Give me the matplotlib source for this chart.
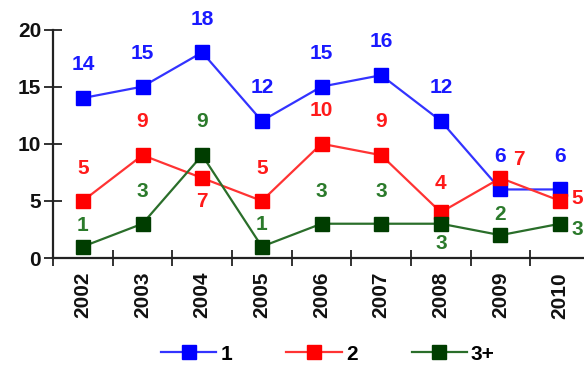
import matplotlib
matplotlib.use("Agg")
import matplotlib.pyplot as plt
from matplotlib.lines import Line2D

years = ["2002", "2003", "2004", "2005", "2006", "2007", "2008", "2009", "2010"]
series_names = ["1", "2", "3+"]
s1 = [14, 15, 18, 12, 15, 16, 12, 6, 6]
s2 = [5, 9, 7, 5, 10, 9, 4, 7, 5]
s3 = [1, 3, 9, 1, 3, 3, 3, 2, 3]

line_colors = ["#3333ff", "#ff3333", "#2a6e2a"]
marker_colors = ["#0000ff", "#ff0000", "#003d00"]
text_colors = ["#1a1aff", "#ff1a1a", "#2b7a2b"]

# label offsets in points (dx, dy) for each point of each series
up = (0, 24)
offsets = [
    [up] * 9,
    [(0, 23), up, (0, -17), (0, 23), up, up, (0, 21), (13, 13), (12, 2)],
    [(0, 15), (0, 23), up, (0, 16), (0, 23), (0, 23), (0, -14), (0, 15), (12, -4)],
]

plt.rcParams["font.family"] = ["Liberation Sans", "DejaVu Sans"]
plt.rcParams["font.weight"] = "bold"

fs = 15
fig = plt.figure(figsize=(5.84, 3.65), dpi=100)
ax = fig.add_axes([53 / 584, 1 - 258 / 365, 537 / 584, 228.5 / 365])

x = list(range(len(years)))
for vals, name, lc, mc, tc, offs in zip([s1, s2, s3], series_names, line_colors,
                                         marker_colors, text_colors, offsets):
    ax.plot(x, vals, color=lc, lw=1.6, marker="s", markersize=10,
            markerfacecolor=mc, markeredgecolor=mc, label=name, clip_on=False)
    for xi, v, (dx, dy) in zip(x, vals, offs):
        ax.annotate(str(v), (xi, v), xytext=(dx, dy), textcoords="offset points",
                    ha="center", va="center", color=tc, fontsize=fs,
                    fontweight="bold", annotation_clip=False)

ax.set_xlim(-0.5, len(years) - 0.5)
ax.set_ylim(0, 20)
ax.set_yticks([0, 5, 10, 15, 20])
ax.set_xticks([i - 0.5 for i in range(len(years) + 1)], minor=False)
ax.set_xticklabels([])
ax.set_xticks(x, minor=True)
ax.set_xticklabels(years, minor=True, rotation=90, fontsize=fs, fontweight="bold",
                   color="#111111")
ax.tick_params(axis="x", which="minor", length=0, pad=10)
ax.tick_params(axis="x", which="major", direction="inout", length=12, width=1.3,
               color="#222222")
ax.tick_params(axis="y", direction="inout", length=13, width=1.3, color="#222222",
               labelsize=fs, labelcolor="#111111", pad=2)
for lab in ax.get_yticklabels():
    lab.set_fontweight("bold")

for side in ["top", "right"]:
    ax.spines[side].set_visible(False)
for side in ["left", "bottom"]:
    ax.spines[side].set_linewidth(1.6)
    ax.spines[side].set_color("#222222")

handles = [Line2D([0], [0], color=lc, lw=1.6, marker="s", markersize=10,
                  markerfacecolor=mc, markeredgecolor=mc)
           for lc, mc in zip(line_colors, marker_colors)]
fig.legend(handles, series_names, loc="center", bbox_to_anchor=(328 / 584, 1 - 354 / 365),
           ncol=3, frameon=False, handlelength=2.65, columnspacing=2.6,
           handletextpad=0.2, borderpad=0.1, prop={"weight": "bold", "size": fs})

fig.savefig("out.png", dpi=100)
